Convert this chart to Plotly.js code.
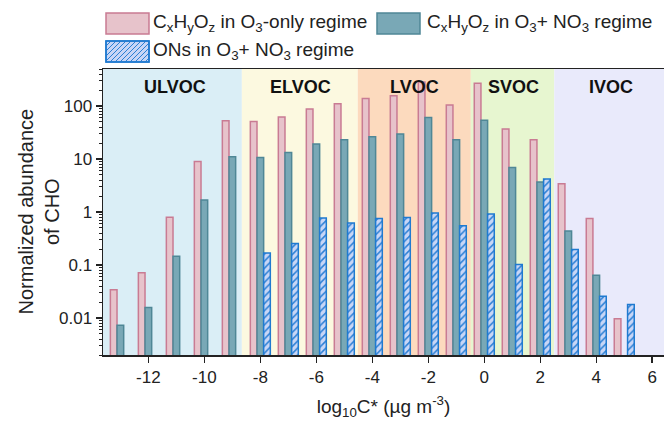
<!DOCTYPE html>
<html>
<head>
<meta charset="utf-8">
<script src="https://cdn.plot.ly/plotly-3.0.1.min.js"></script>
<style>html,body{margin:0;padding:0;background:#fff;}#chart{width:664px;height:428px;}</style>
</head>
<body>
<div id="chart"></div>
<script>
// ---- data ----
const logC = [-13,-12,-11,-10,-9,-8,-7,-6,-5,-4,-3,-2,-1,0,1,2,3,4,5];
const cho_O3only = [0.034,0.071,0.80,9.0,53,51,62,88,111,138,157,285,105,270,37,23,3.4,0.75,0.0097];
const cho_O3NO3  = [0.0073,0.0158,0.146,1.68,11.0,10.7,13.3,19.3,23.0,26.3,29.8,60.5,23.0,54,6.9,3.7,0.44,0.064,null];
const ons_O3NO3  = [null,null,null,null,null,0.169,0.253,0.77,0.62,0.75,0.79,0.96,0.55,0.92,0.102,4.2,0.195,0.0257,0.018];
const regionNames = ['ULVOC','ELVOC','LVOC','SVOC','IVOC'];
const regionEdges = [-13.62,-8.66,-4.52,-0.48,2.5,6.42];
const regionColors = ['#daeef6','#fcf9e0','#fcdabe','#e7f6d0','#e9eafb'];
const regionLabelX = [-11.05,-6.55,-2.51,1.04,4.52];
const xTicks = [-12,-10,-8,-6,-4,-2,0,2,4,6];
const yTicks = [0.01,0.1,1,10,100];
const yTickText = ['0.01','0.1','1','10','100'];
const legendNames = ['C<sub>x</sub>H<sub>y</sub>O<sub>z</sub> in O<sub>3</sub>-only regime',
                     'C<sub>x</sub>H<sub>y</sub>O<sub>z</sub> in O<sub>3</sub>+ NO<sub>3</sub> regime',
                     'ONs in O<sub>3</sub>+ NO<sub>3</sub> regime'];

// ---- styles ----
const pinkFill='#e7c3cb', pinkLine='#c97b93';
const tealFill='#79a8b6', tealLine='#4f8796';
const onsBg='#c8d6f6', onsFg='#2a7fd5', onsLine='#1f7ad0';
const FONT='Liberation Sans, Arial, sans-serif';

const M = {l:103, r:0, t:69, b:73};
const W = 664, H = 428;
const pw = W - M.l - M.r, ph = H - M.t - M.b;
const px2x = p => (p - M.l)/pw;
const py2y = p => (H - M.b - p)/ph;

const traces = [
  {type:'bar', x:logC, y:cho_O3only, name:legendNames[0], showlegend:false,
   marker:{color:pinkFill, line:{color:pinkLine, width:1.5}}},
  {type:'bar', x:logC, y:cho_O3NO3, name:legendNames[1], showlegend:false,
   marker:{color:tealFill, line:{color:tealLine, width:1.5}}},
  {type:'bar', x:logC, y:ons_O3NO3, name:legendNames[2], showlegend:false,
   marker:{color:onsBg, line:{color:onsLine, width:1.5},
           pattern:{shape:'/', fgcolor:onsFg, bgcolor:onsBg, size:5, solidity:0.3}}}
];

const shapes = [];
for (let i=0;i<regionNames.length;i++){
  shapes.push({type:'rect', xref:'x', yref:'paper', x0:regionEdges[i], x1:regionEdges[i+1], y0:0, y1:1,
               fillcolor:regionColors[i], line:{width:0}, layer:'below'});
}
// custom legend swatches
function swatch(x0,y0,x1,y1,fill,line){
  shapes.push({type:'rect', xref:'paper', yref:'paper', x0:px2x(x0), x1:px2x(x1), y0:py2y(y1), y1:py2y(y0),
               fillcolor:fill, line:{color:line, width:1.5}});
}
swatch(106,13,149,34,pinkFill,pinkLine);
swatch(377,13,420,34,tealFill,tealLine);
swatch(106,41,149,62,onsBg,onsLine);
// hatch in third swatch
(function(){
  const x0=106,x1=149,yt=41,yb=62,h=yb-yt,s=5;
  for (let c=x0-h; c<x1; c+=s){
    let sx=c, sy=yb, ex=c+h, ey=yt;
    if (sx<x0){ sy = yb-(x0-c); sx=x0; }
    if (ex>x1){ ey = yb-(x1-c); ex=x1; }
    if (sx>=ex) continue;
    shapes.push({type:'line', xref:'paper', yref:'paper', x0:px2x(sx), y0:py2y(sy), x1:px2x(ex), y1:py2y(ey),
                 line:{color:onsFg, width:1}});
  }
  shapes.push({type:'rect', xref:'paper', yref:'paper', x0:px2x(x0), x1:px2x(x1), y0:py2y(yb), y1:py2y(yt),
               fillcolor:'rgba(0,0,0,0)', line:{color:onsLine, width:1.5}});
})();

const annotations = [];
for (let i=0;i<regionNames.length;i++){
  annotations.push({xref:'x', yref:'paper', x:regionLabelX[i], y:py2y(87), text:'<b>'+regionNames[i]+'</b>',
                    showarrow:false, xanchor:'center', yanchor:'middle', font:{size:18, color:'#111', family:FONT}});
}
annotations.push({xref:'paper', yref:'paper', x:px2x(151), y:py2y(23.5), text:legendNames[0], showarrow:false,
                  xanchor:'left', yanchor:'middle', font:{size:19, color:'#222', family:FONT}});
annotations.push({xref:'paper', yref:'paper', x:px2x(425), y:py2y(23.5), text:legendNames[1], showarrow:false,
                  xanchor:'left', yanchor:'middle', font:{size:19, color:'#222', family:FONT}});
annotations.push({xref:'paper', yref:'paper', x:px2x(151), y:py2y(51.5), text:legendNames[2], showarrow:false,
                  xanchor:'left', yanchor:'middle', font:{size:19, color:'#222', family:FONT}});
annotations.push({xref:'paper', yref:'paper', x:px2x(38.5), y:0.5, text:'Normalized abundance<br>of CHO', showarrow:false,
                  textangle:-90, xanchor:'center', yanchor:'middle', font:{size:20, color:'#222', family:FONT}});

const minorVals = [];
for (let e=-3;e<=2;e++){ for (let d=2; d<=9; d++){ const v=d*Math.pow(10,e); if (v>=0.002 && v<=500) minorVals.push(v); } }

const layout = {
  width:W, height:H, margin:M, paper_bgcolor:'#fff', plot_bgcolor:'#fff',
  font:{family:FONT, color:'#222', size:17},
  barmode:'group', bargap:0.286, bargroupgap:0,
  showlegend:false,
  xaxis:{range:[-13.62,6.42], tickvals:xTicks, ticktext:xTicks.map(String), ticks:'outside', ticklen:6, tickwidth:1.5,
         tickcolor:'#222', showline:true, linecolor:'#222', linewidth:1.5, mirror:true, showgrid:false, zeroline:false,
         tickfont:{size:17}, title:{text:'log<sub>10</sub>C* (µg m<sup>-3</sup>)', font:{size:19}, standoff:14}},
  yaxis:{type:'log', range:[Math.log10(0.002), Math.log10(500)], tickmode:'array', tickvals:yTicks, ticktext:yTickText,
         ticks:'outside', ticklen:6, tickwidth:1.5, tickcolor:'#222', showline:true, linecolor:'#222', linewidth:1.5,
         showgrid:false, zeroline:false, tickfont:{size:17},
         minor:{tickmode:'array', tickvals:minorVals, ticks:'outside', ticklen:3, tickwidth:1, tickcolor:'#222', showgrid:false}},
  shapes:shapes, annotations:annotations
};
Plotly.newPlot('chart', traces, layout, {staticPlot:true, displayModeBar:false});
</script>
</body>
</html>
